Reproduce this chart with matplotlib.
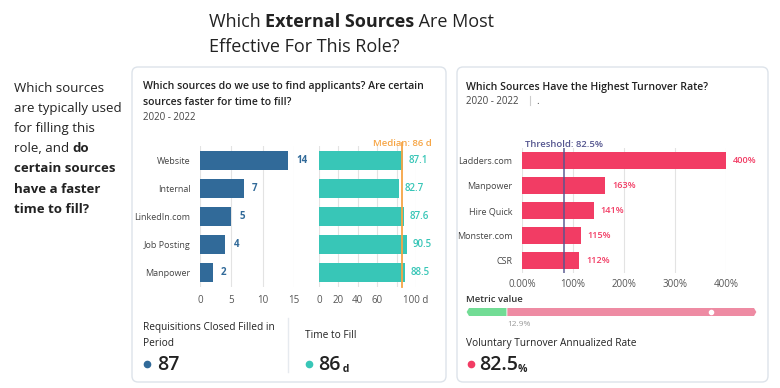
import numpy as np
import matplotlib
matplotlib.use('Agg')
import matplotlib.pyplot as plt
from matplotlib.patches import FancyBboxPatch, Polygon

plt.rcParams['font.family'] = ['Open Sans', 'DejaVu Sans']

# data
sources = ['Website', 'Internal', 'LinkedIn.com', 'Job Posting', 'Manpower']
req_closed = [14, 7, 5, 4, 2]
time_to_fill = [87.1, 82.7, 87.6, 90.5, 88.5]
median_ttf = 86

turn_sources = ['Ladders.com', 'Manpower', 'Hire Quick', 'Monster.com', 'CSR']
turnover = [400, 163, 141, 115, 112]
threshold = 82.5

total_req = 87
gauge_split = 12.9
gauge_max = 97
turnover_rate = 82.5

BLUE = '#316a99'
TEAL = '#38c6b7'
ORANGE = '#f6a545'
PINK = '#f23c64'
THRESH = '#54558f'
GRID = '#e3e3e3'
TXT = '#222222'
GRAY = '#555555'

W, H = 780, 388
fig = plt.figure(figsize=(W / 100, H / 100), dpi=100)

# background axes in pixel units
bg = fig.add_axes([0, 0, 1, 1])
bg.set_xlim(0, W)
bg.set_ylim(H, 0)
bg.axis('off')


def box(x0, y0, x1, y1):
    # pixel rect -> figure fraction
    return [x0 / W, 1 - y1 / H, (x1 - x0) / W, (y1 - y0) / H]


def chain(parts, x, y, **kw):
    # draw text pieces one after another on the same baseline
    prev = None
    for s, extra in parts:
        opts = dict(kw)
        opts.update(extra)
        if prev is None:
            prev = bg.text(x, y, s, va='baseline', ha='left', **opts)
        else:
            prev = bg.annotate(s, xy=(1, 0), xycoords=prev, va='bottom',
                               ha='left', **opts)
    return prev


# cards
for x0, x1 in [(132, 446), (457, 768)]:
    bg.add_patch(FancyBboxPatch((x0, 67), x1 - x0, 315,
                                boxstyle='round,pad=0,rounding_size=6',
                                fc='white', ec='#dde3ea', lw=1))
bg.plot([288, 288], [318, 372], color='#e6eaef', lw=1)

# main title
chain([('Which ', {}), ('External Sources', {'weight': 'bold'}),
       (' Are Most', {})], 209, 27, fontsize=13, color=TXT)
bg.text(209, 52, 'Effective For This Role?', fontsize=13, color=TXT)

# side text
bg.text(14, 92, 'Which sources', fontsize=9.5, color=TXT)
bg.text(14, 112, 'are typically used', fontsize=9.5, color=TXT)
bg.text(14, 132, 'for filling this', fontsize=9.5, color=TXT)
chain([('role, and ', {}), ('do', {'weight': 'bold'})], 14, 152,
      fontsize=9.5, color=TXT)
bg.text(14, 172, 'certain sources', fontsize=9.5, color=TXT, weight='bold')
bg.text(14, 193, 'have a faster', fontsize=9.5, color=TXT, weight='bold')
bg.text(14, 213, 'time to fill?', fontsize=9.5, color=TXT, weight='bold')

# card 1 titles
bg.text(143, 89, 'Which sources do we use to find applicants? Are certain',
        fontsize=7.6, weight='semibold', color=TXT)
bg.text(143, 105, 'sources faster for time to fill?', fontsize=7.6,
        weight='semibold', color=TXT)
bg.text(143, 120, '2020 - 2022', fontsize=7, color='#444444')

# card 2 titles
bg.text(466, 90, 'Which Sources Have the Highest Turnover Rate?',
        fontsize=7.6, weight='semibold', color=TXT)
bg.text(466, 104, '2020 - 2022', fontsize=7, color='#444444')
bg.plot([530, 530], [96, 105], color='#cccccc', lw=0.8)
bg.text(536, 104, '.', fontsize=7, color='#444444')


def style_axes(ax):
    for sp in ax.spines.values():
        sp.set_visible(False)
    ax.grid(axis='x', color=GRID, lw=0.8)
    ax.set_axisbelow(True)
    ax.tick_params(length=0, labelsize=7, labelcolor=GRAY, pad=6)


ypos = np.arange(len(sources))

# requisitions bars
ax1 = fig.add_axes(box(200, 146, 294, 287))
ax1.barh(ypos, req_closed, height=0.67, color=BLUE)
ax1.set_xlim(0, 15)
ax1.set_ylim(4.5, -0.5)
ax1.set_xticks([0, 5, 10, 15])
ax1.set_yticks(ypos)
ax1.set_yticklabels(sources)
style_axes(ax1)
ax1.tick_params(axis='y', labelcolor='#444444', labelsize=6.5, pad=7)
for i, v in enumerate(req_closed):
    ax1.annotate(str(v), (v, i), xytext=(6, 0), textcoords='offset points',
                 va='center', fontsize=7, weight='bold', color=BLUE)

# time to fill bars
ax2 = fig.add_axes(box(319, 146, 416, 287))
ax2.barh(ypos, time_to_fill, height=0.67, color=TEAL)
ax2.set_xlim(0, 100)
ax2.set_ylim(4.5, -0.5)
ax2.set_xticks([0, 20, 40, 60, 80, 100])
ax2.set_xticklabels(['0', '20', '40', '60', '', '100 d'])
ax2.set_yticks([])
style_axes(ax2)
ax2.axvline(median_ttf, color=ORANGE, lw=1.3, ymax=1.02, clip_on=False)
ax2.text(median_ttf, -0.42, 'Median: 86 d', ha='center', va='bottom',
         fontsize=6.8, weight='semibold', color=ORANGE)
for i, v in enumerate(time_to_fill):
    ax2.annotate(f'{v:.1f}', (v, i), xytext=(4, 0), textcoords='offset points',
                 va='center', fontsize=7, color=TEAL, weight='semibold')

# turnover bars
ax3 = fig.add_axes(box(522, 148, 726, 273))
ax3.barh(ypos, turnover, height=0.68, color=PINK)
ax3.set_xlim(0, 400)
ax3.set_ylim(4.5, -0.5)
ax3.set_xticks([0, 100, 200, 300, 400])
ax3.set_xticklabels(['0.00%', '100%', '200%', '300%', '400%'])
ax3.set_yticks(ypos)
ax3.set_yticklabels(turn_sources)
style_axes(ax3)
ax3.tick_params(axis='x', pad=4)
ax3.tick_params(axis='y', labelcolor='#444444', labelsize=6.5, pad=7)
ax3.axvline(threshold, color=THRESH, lw=1.3, alpha=0.8)
ax3.text(threshold, -0.45, 'Threshold: 82.5%', ha='center', va='bottom',
         fontsize=6.8, weight='semibold', color=THRESH)
for i, v in enumerate(turnover):
    ax3.annotate(f'{v}%', (v, i), xytext=(5, 0), textcoords='offset points',
                 va='center', fontsize=6.6, color=PINK, weight='semibold')

# metric gauge
bg.text(466, 302, 'Metric value', fontsize=6.8, weight='semibold', color='#333333')
ax4 = fig.add_axes(box(469, 308, 754, 316))
ax4.set_xlim(0, gauge_max)
ax4.set_ylim(0, 1)
ax4.axis('off')
tip = 0.8
ax4.add_patch(Polygon([(-tip, 0.5), (0, 1), (gauge_split - 0.15, 1),
                       (gauge_split - 0.15, 0), (0, 0)],
                      closed=True, fc='#72dc95', ec='none', clip_on=False))
ax4.add_patch(Polygon([(gauge_split + 0.15, 0), (gauge_split + 0.15, 1),
                       (gauge_max, 1), (gauge_max + tip, 0.5), (gauge_max, 0)],
                      closed=True, fc='#ee8ba3', ec='none', clip_on=False))
ax4.plot([turnover_rate], [0.5], 'o', color='white', ms=3)
ax4.text(gauge_split, -0.6, '12.9%', ha='left', va='top', fontsize=6,
         color='#999999')

# KPI section card 1
bg.text(143, 330, 'Requisitions Closed Filled in', fontsize=7.3, color=TXT)
bg.text(143, 346, 'Period', fontsize=7.3, color=TXT)
bg.plot([147], [364], 'o', color=BLUE, ms=4.5)
bg.text(157, 370, str(total_req), fontsize=14, color=TXT, weight='semibold')

bg.text(305, 338, 'Time to Fill', fontsize=7.3, color=TXT)
bg.plot([309], [364], 'o', color=TEAL, ms=4.5)
chain([(str(median_ttf), {'fontsize': 14}), (' d', {'fontsize': 7.5, 'weight': 'bold'})],
      318, 370, color=TXT, weight='semibold')

# KPI section card 2
bg.text(466, 346, 'Voluntary Turnover Annualized Rate', fontsize=7.3, color=TXT)
bg.plot([471], [364], 'o', color=PINK, ms=4.5)
chain([(f'{turnover_rate}', {'fontsize': 14}), ('%', {'fontsize': 7.5, 'weight': 'bold'})],
      479, 370, color=TXT, weight='semibold')

fig.savefig('out.png', dpi=100)
